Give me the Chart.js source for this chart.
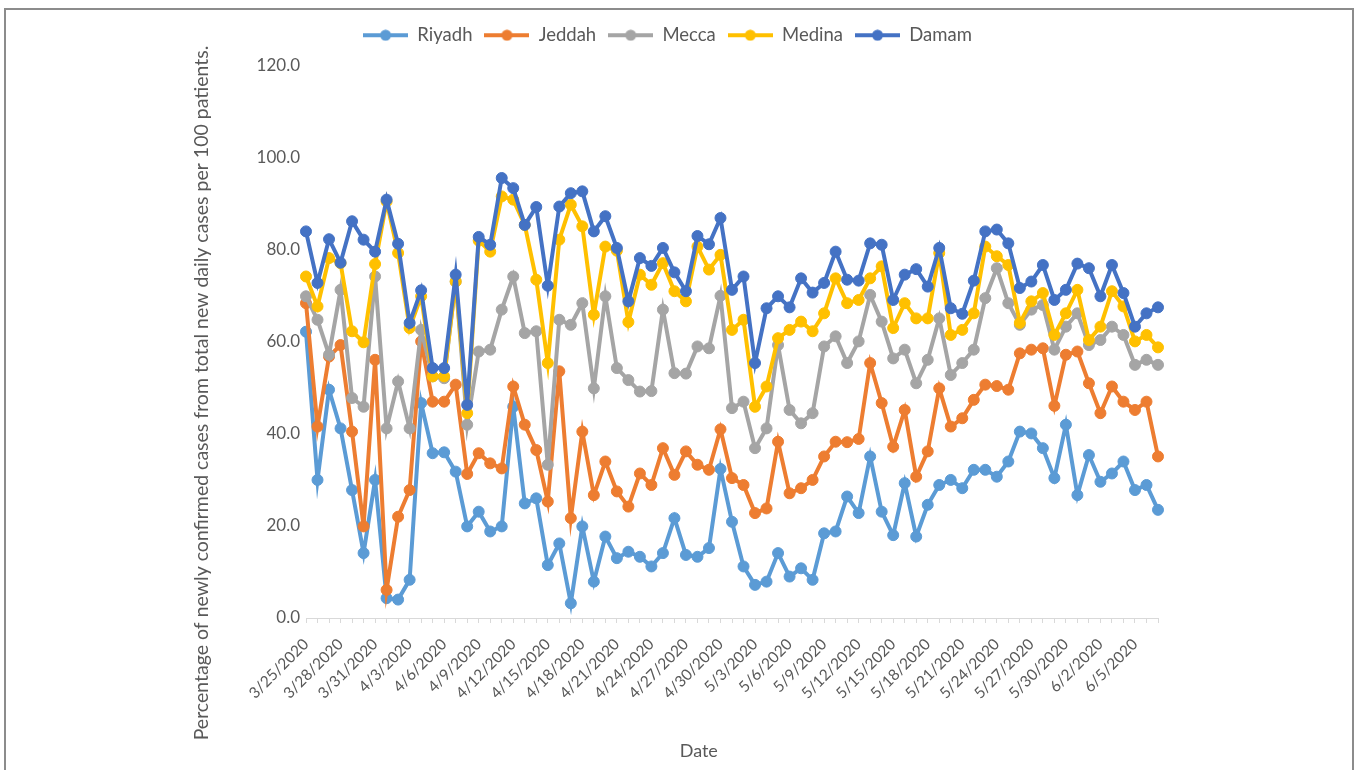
<!DOCTYPE html>
<html>
<head>
<meta charset="utf-8">
<script src="https://cdn.jsdelivr.net/npm/chart.js@4.4.0/dist/chart.umd.min.js"></script>
<style>
  html, body { margin: 0; padding: 0; background: #fff; overflow: hidden; }
  #frame { position: absolute; left: 4px; top: 8px; width: 1350px; height: 800px; border: 2px solid #8c8c8c; box-sizing: border-box; }
  #chart { position: absolute; left: 0; top: 0; }
</style>
</head>
<body>
<div id="frame"></div>
<canvas id="chart" width="1359" height="770"></canvas>
<script>
const dates = [
  '3/25/2020','3/26/2020','3/27/2020','3/28/2020','3/29/2020','3/30/2020','3/31/2020',
  '4/1/2020','4/2/2020','4/3/2020','4/4/2020','4/5/2020','4/6/2020','4/7/2020','4/8/2020','4/9/2020','4/10/2020',
  '4/11/2020','4/12/2020','4/13/2020','4/14/2020','4/15/2020','4/16/2020','4/17/2020','4/18/2020','4/19/2020','4/20/2020',
  '4/21/2020','4/22/2020','4/23/2020','4/24/2020','4/25/2020','4/26/2020','4/27/2020','4/28/2020','4/29/2020','4/30/2020',
  '5/1/2020','5/2/2020','5/3/2020','5/4/2020','5/5/2020','5/6/2020','5/7/2020','5/8/2020','5/9/2020','5/10/2020',
  '5/11/2020','5/12/2020','5/13/2020','5/14/2020','5/15/2020','5/16/2020','5/17/2020','5/18/2020','5/19/2020','5/20/2020',
  '5/21/2020','5/22/2020','5/23/2020','5/24/2020','5/25/2020','5/26/2020','5/27/2020','5/28/2020','5/29/2020','5/30/2020','5/31/2020',
  '6/1/2020','6/2/2020','6/3/2020','6/4/2020','6/5/2020','6/6/2020','6/7/2020'
];

const riyadh = [62.2, 30.0, 49.6, 41.2, 27.8, 14.1, 30.0, 4.3, 4.0, 8.3, 46.7, 35.8, 36.0, 31.8, 19.9, 23.1, 18.8, 19.9, 45.9, 24.9,
  26.0, 11.5, 16.2, 3.2, 19.9, 7.9, 17.7, 13.0, 14.4, 13.3, 11.2, 14.1, 21.7, 13.7, 13.3, 15.2, 32.4, 20.9, 11.2, 7.2,
  7.9, 14.1, 9.0, 10.8, 8.3, 18.4, 18.8, 26.4, 22.8, 35.1, 23.1, 18.0, 29.3, 17.7, 24.6, 28.9, 30.0, 28.2, 32.2, 32.2,
  30.7, 34.0, 40.5, 40.1, 36.9, 30.4, 42.0, 26.7, 35.4, 29.6, 31.4, 34.0, 27.8, 28.9, 23.5];

const jeddah = [68.4, 41.6, 56.8, 59.3, 40.5, 19.9, 56.1, 6.1, 22.0, 27.8, 60.1, 47.0, 47.0, 50.7, 31.3, 35.8, 33.6, 32.5, 50.3, 42.0,
  36.5, 25.3, 53.6, 21.7, 40.5, 26.7, 34.0, 27.5, 24.2, 31.4, 28.9, 36.9, 31.1, 36.2, 33.3, 32.2, 41.0, 30.4, 28.9, 22.8,
  23.8, 38.3, 27.1, 28.2, 30.0, 35.1, 38.3, 38.2, 38.9, 55.4, 46.7, 37.2, 45.2, 30.7, 36.2, 49.9, 41.6, 43.4, 47.4, 50.7,
  50.4, 49.6, 57.5, 58.3, 58.6, 46.1, 57.2, 57.9, 51.0, 44.5, 50.3, 47.0, 45.2, 47.0, 35.1];

const mecca = [69.9, 64.8, 57.2, 71.3, 47.8, 45.9, 74.2, 41.2, 51.4, 41.2, 62.6, 52.5, 52.1, 73.1, 42.0, 57.9, 58.3, 67.0, 74.2, 61.9,
  62.3, 33.3, 64.8, 63.7, 68.4, 49.9, 69.9, 54.3, 51.7, 49.2, 49.3, 67.0, 53.2, 53.1, 59.0, 58.6, 70.0, 45.6, 47.0, 36.9,
  41.2, 59.3, 45.2, 42.3, 44.5, 59.0, 61.2, 55.4, 60.1, 70.2, 64.4, 56.4, 58.3, 51.0, 56.1, 65.1, 52.8, 55.4, 58.3, 69.5,
  76.0, 68.4, 63.7, 67.0, 68.0, 58.3, 63.3, 66.2, 59.3, 60.4, 63.3, 61.5, 55.0, 56.1, 55.0];

const medina = [74.2, 67.7, 78.2, 77.1, 62.3, 59.9, 76.9, 90.5, 79.3, 63.0, 69.9, 52.5, 52.5, 73.1, 44.5, 82.0, 79.6, 91.6, 90.9, 85.4,
  73.5, 55.4, 82.2, 89.8, 85.1, 65.9, 80.7, 79.8, 64.3, 74.6, 72.4, 77.1, 71.0, 68.8, 80.7, 75.7, 78.9, 62.6, 64.8, 45.9,
  50.3, 60.8, 62.6, 64.4, 62.3, 66.2, 73.8, 68.4, 69.1, 73.8, 76.4, 63.0, 68.4, 65.1, 65.1, 79.3, 61.5, 62.6, 66.2, 80.7,
  78.6, 76.7, 64.1, 68.8, 70.6, 61.5, 66.2, 71.3, 60.4, 63.3, 71.0, 67.7, 60.1, 61.5, 58.8];

const damam = [84.0, 72.8, 82.3, 77.2, 86.2, 82.2, 79.6, 90.9, 81.3, 64.1, 71.2, 54.3, 54.3, 74.6, 46.3, 82.8, 81.1, 95.6, 93.4, 85.4,
  89.3, 72.2, 89.4, 92.3, 92.7, 84.0, 87.3, 80.4, 68.8, 78.2, 76.5, 80.4, 75.1, 71.0, 83.0, 81.2, 86.9, 71.3, 74.2, 55.4,
  67.3, 69.9, 67.5, 73.8, 70.7, 72.8, 79.6, 73.5, 73.3, 81.4, 81.1, 69.1, 74.6, 75.8, 72.0, 80.4, 67.3, 66.1, 73.3, 84.0,
  84.4, 81.4, 71.7, 73.1, 76.7, 69.1, 71.3, 77.0, 76.0, 69.9, 76.7, 70.6, 63.3, 66.2, 67.5];

const seriesNames = ['Riyadh', 'Jeddah', 'Mecca', 'Medina', 'Damam'];
const seriesColors = ['#5B9BD5', '#ED7D31', '#A5A5A5', '#FFC000', '#4472C4'];
const yTicks = [0, 20, 40, 60, 80, 100, 120];
const xTitle = 'Date';
const yTitle = 'Percentage of newly confirmed cases from total new daily cases per 100 patients.';

const textGray = '#595959';
const font = 'Lato';

// little line-with-dot pictures for the legend
function legendMarker(color) {
  const c = document.createElement('canvas');
  c.width = 45; c.height = 12;
  const g = c.getContext('2d');
  g.strokeStyle = color; g.lineWidth = 4;
  g.beginPath(); g.moveTo(0, 6); g.lineTo(45, 6); g.stroke();
  g.fillStyle = color;
  g.beginPath(); g.arc(22.5, 6, 5.5, 0, Math.PI * 2); g.fill();
  return c;
}
const markers = seriesColors.map(legendMarker);

const values = [riyadh, jeddah, mecca, medina, damam];
const datasets = seriesNames.map((name, i) => ({
  label: name,
  data: values[i],
  borderColor: seriesColors[i],
  backgroundColor: seriesColors[i],
  pointBackgroundColor: seriesColors[i],
  pointBorderColor: seriesColors[i],
  borderWidth: 4,
  pointRadius: 5.5,
  pointBorderWidth: 1,
  tension: 0,
  order: seriesNames.length - i
}));

const axisTitles = {
  id: 'axisTitles',
  afterDraw(chart) {
    const { ctx, chartArea } = chart;
    ctx.save();
    ctx.fillStyle = textGray;
    ctx.textAlign = 'center';
    ctx.textBaseline = 'middle';
    ctx.font = '18px ' + font;
    ctx.fillText(xTitle, chartArea.left + (chartArea.right - chartArea.left) * 0.461, 751);
    ctx.font = '19.5px ' + font;
    ctx.translate(202, 393);
    ctx.rotate(-Math.PI / 2);
    ctx.fillText(yTitle, 0, 0);
    ctx.restore();
  }
};

new Chart(document.getElementById('chart'), {
  type: 'line',
  data: { labels: dates, datasets: datasets },
  plugins: [axisTitles],
  options: {
    responsive: false,
    animation: false,
    layout: { padding: { left: 177, right: 201, top: 14, bottom: 8 } },
    plugins: {
      tooltip: { enabled: false },
      legend: {
        position: 'top',
        labels: {
          usePointStyle: true,
          pointStyleWidth: 45,
          boxHeight: 12,
          padding: 12,
          color: textGray,
          font: { family: font, size: 18.5 },
          sort: (a, b) => a.datasetIndex - b.datasetIndex,
          generateLabels: chart => Chart.defaults.plugins.legend.labels.generateLabels(chart)
            .map(l => Object.assign(l, { pointStyle: markers[l.datasetIndex] }))
        }
      },
      subtitle: {
        display: true,
        text: '',
        weight: 500,
        font: { size: 1 },
        padding: { top: 0, bottom: 10 }
      }
    },
    scales: {
      x: {
        offset: false,
        grid: { display: true, drawOnChartArea: false, drawTicks: true, tickLength: 5, color: '#d9d9d9' },
        border: { display: true, color: '#d9d9d9', width: 1 },
        ticks: {
          autoSkip: false,
          minRotation: 45,
          maxRotation: 45,
          padding: 12,
          color: textGray,
          font: { family: font, size: 15.5 },
          callback: function (v, i) { return i % 3 === 0 ? dates[i] : ''; }
        },
        afterFit: s => { s.height = 144; }
      },
      y: {
        min: yTicks[0],
        max: yTicks[yTicks.length - 1],
        grid: { display: false, drawTicks: false },
        border: { display: false },
        afterBuildTicks: s => { s.ticks = yTicks.map(v => ({ value: v })); },
        ticks: {
          padding: 6,
          color: textGray,
          font: { family: font, size: 17 },
          callback: v => v.toFixed(1)
        },
        afterFit: s => { s.width = 129; }
      }
    }
  }
});
</script>
</body>
</html>
